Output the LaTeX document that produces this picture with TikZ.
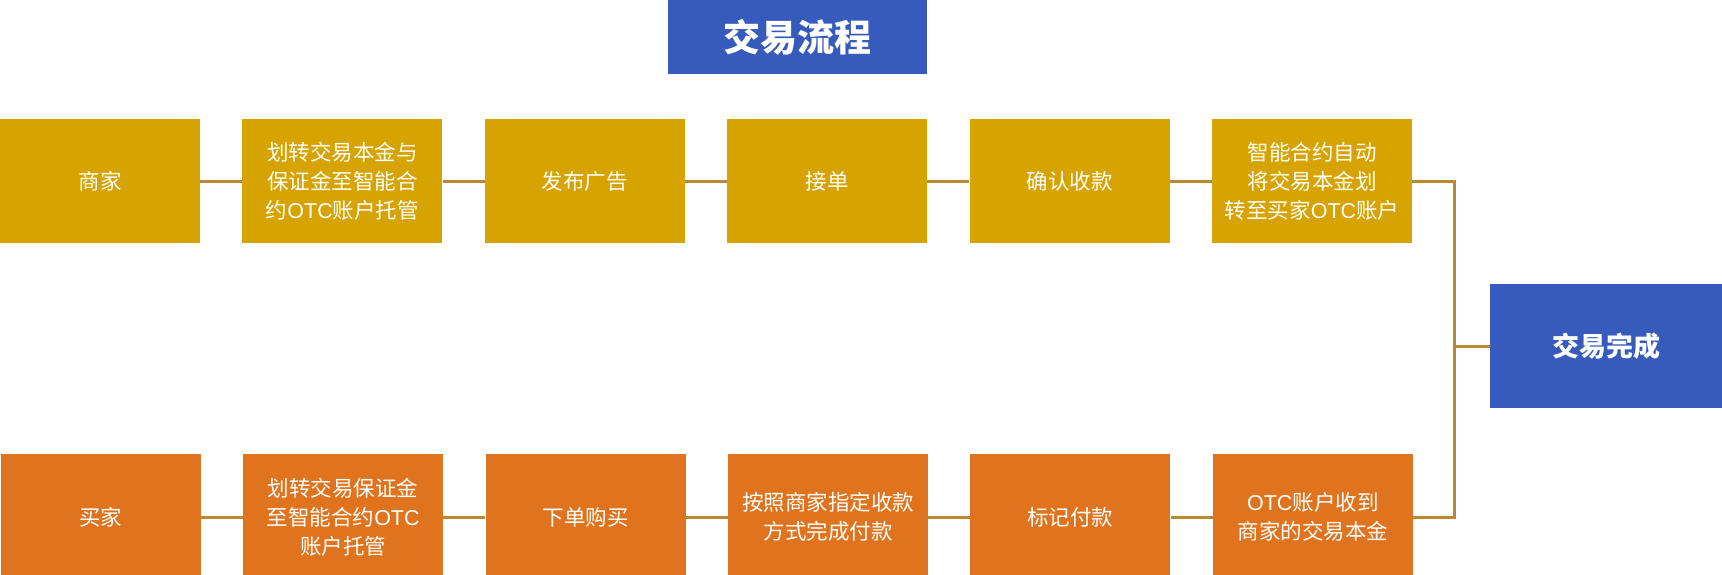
\documentclass[tikz,border=0pt]{standalone}
\usepackage{fontspec}
\setmainfont{Noto Sans CJK SC}
\newfontfamily\latinfont{Liberation Sans}
\newcommand{\otc}{{\latinfont OTC}}
\usepackage{tikz}
\usetikzlibrary{positioning,calc}
\definecolor{goldbox}{RGB}{215,163,0}
\definecolor{orangebox}{RGB}{224,115,30}
\definecolor{bluebox}{RGB}{54,91,189}
\definecolor{linkline}{RGB}{185,137,58}
\tikzset{
  stepbox/.style={fill=#1,text=white,minimum width=200pt,minimum height=124pt,inner sep=0pt,
    align=center,font=\fontsize{21.5}{29}\selectfont},
  link/.style={linkline,line width=3pt,line join=miter}
}
\begin{document}
\begin{tikzpicture}[x=1pt,y=-1pt]
\useasboundingbox (0,0) rectangle (1722,574);
\clip (0,0) rectangle (1722,574);
%Titel oben
\node[fill=bluebox,text=white,minimum width=259pt,minimum height=74pt,inner sep=0pt,
  font=\fontsize{37}{40}\selectfont\bfseries] (titel) at (797.5,37) {交易流程};
%Obere Reihe: Haendler
\foreach \i/\txt in {1/{商家},2/{划转交易本金与\\保证金至智能合\\约\otc 账户托管},3/{发布广告},4/{接单},5/{确认收款},6/{智能合约自动\\将交易本金划\\转至买家\otc 账户}}{
\node[stepbox=goldbox] (m\i) at ({100+(\i-1)*242.4},181) {\txt};
}
%Untere Reihe: Kaeufer
\foreach \i/\txt in {1/{买家},2/{划转交易保证金\\至智能合约\otc\\账户托管},3/{下单购买},4/{按照商家指定收款\\方式完成付款},5/{标记付款},6/{\otc 账户收到\\商家的交易本金}}{
\node[stepbox=orangebox,minimum height=126pt] (k\i) at ({100.8+(\i-1)*242.4},517) {\txt};
}
\node[fill=bluebox,text=white,minimum width=232pt,minimum height=124pt,inner sep=0pt,
  font=\fontsize{27}{30}\selectfont\bfseries] (fertig) at (1606,346) {交易完成};
%Verbindungen
\foreach \i [evaluate=\i as \j using int(\i+1)] in {1,...,5}{
\draw[link] (m\i.east) -- (m\j.west);
\draw[link] (k\i.east) -- (k\j.west);
}
\coordinate (knoten) at (1454,346);
\draw[link] (m6.east) -| (knoten) |- (k6.east);
\draw[link] (knoten) -- (fertig.west);
\end{tikzpicture}
\end{document}
